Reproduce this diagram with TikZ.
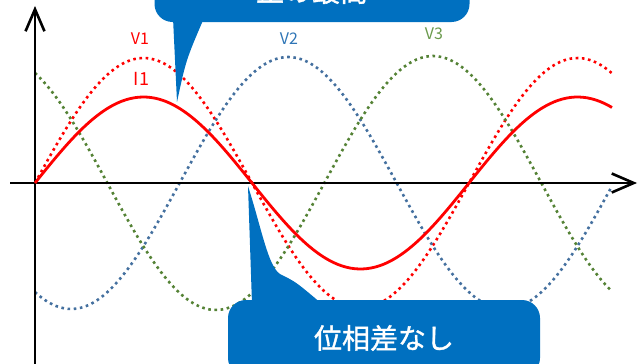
\documentclass[tikz,border=0pt]{standalone}
\usepackage{fontspec}
\setmainfont{Noto Sans CJK JP}
\newfontfamily\callfont[FakeBold=1.2]{Noto Sans CJK JP}
\usetikzlibrary{arrows.meta}

\definecolor{vred}{HTML}{FF0000}
\definecolor{vblue}{HTML}{44709F}
\definecolor{vgreen}{HTML}{548235}
\definecolor{lblue}{HTML}{2E75B6}
\definecolor{lgreen}{HTML}{6A9A4C}
\definecolor{callblue}{HTML}{0070C0}

\begin{document}
\begin{tikzpicture}[x=1pt,y=-1pt,
        axis/.style={line width=2.6pt,-{Straight Barb[length=22pt,width=19pt]}},
        wave/.style={line width=2.6pt,dash pattern=on 2.6pt off 3.6pt},
        current/.style={line width=2.8pt,vred},
        wavelabel/.style={font=\fontsize{16}{16}\selectfont,inner sep=0pt},
        callbox/.style={fill=callblue,rounded corners=18pt,text=white,
            font=\callfont\fontsize{28}{28}\selectfont,inner sep=0pt}]
    \useasboundingbox (0,0) rectangle (638,364);
    \clip (0,0) rectangle (638,364);
    % phase voltages
    \draw[wave,vred] plot[domain=35:612,samples=140,smooth] (\x,{183-125*sin((\x-35)/434*360)});
    \draw[wave,vblue] plot[domain=35:612,samples=140,smooth] (\x,{183-126*sin((\x-35)/434*360-120)});
    \draw[wave,vgreen] plot[domain=35:612,samples=140,smooth] (\x,{183-127*sin((\x-35)/434*360+120)});
    % axes
    \coordinate (xstart) at (10,183);
    \coordinate (xend) at (637,183);
    \coordinate (ystart) at (35,364);
    \coordinate (yend) at (35,6);
    \draw[axis] (xstart) -- (xend);
    \draw[axis] (ystart) -- (yend);
    % current
    \draw[current] plot[domain=35:612,samples=140,smooth] (\x,{183-86*sin((\x-35)/434*360)});
    % labels
    \node[wavelabel,text=vred] (v1) at (140,38.5) {V1};
    \node[wavelabel,text=vred,font=\fontsize{18}{18}\selectfont] (i1) at (141.5,78.5) {I1};
    \node[wavelabel,text=lblue] (v2) at (289,39) {V2};
    \node[wavelabel,text=lgreen] (v3) at (434,34) {V3};
    % callouts
    \node[callbox,minimum width=315pt,minimum height=62pt] (peak) at (312,-9) {正の最高};
    \coordinate (peaktip) at (177,102);
    \fill[callblue] (173,18) .. controls (175,60) .. (peaktip) .. controls (186,60) .. (204,18) -- cycle;
    \node[callbox,minimum width=312pt,minimum height=76pt] (nophase) at (384,338) {位相差なし};
    \coordinate (zerotip) at (248,186);
    \fill[callblue] (252,304) -- (zerotip) .. controls (262,230) and (268,266) .. (280,274)
        .. controls (296,282) .. (322,304) -- cycle;
\end{tikzpicture}
\end{document}
